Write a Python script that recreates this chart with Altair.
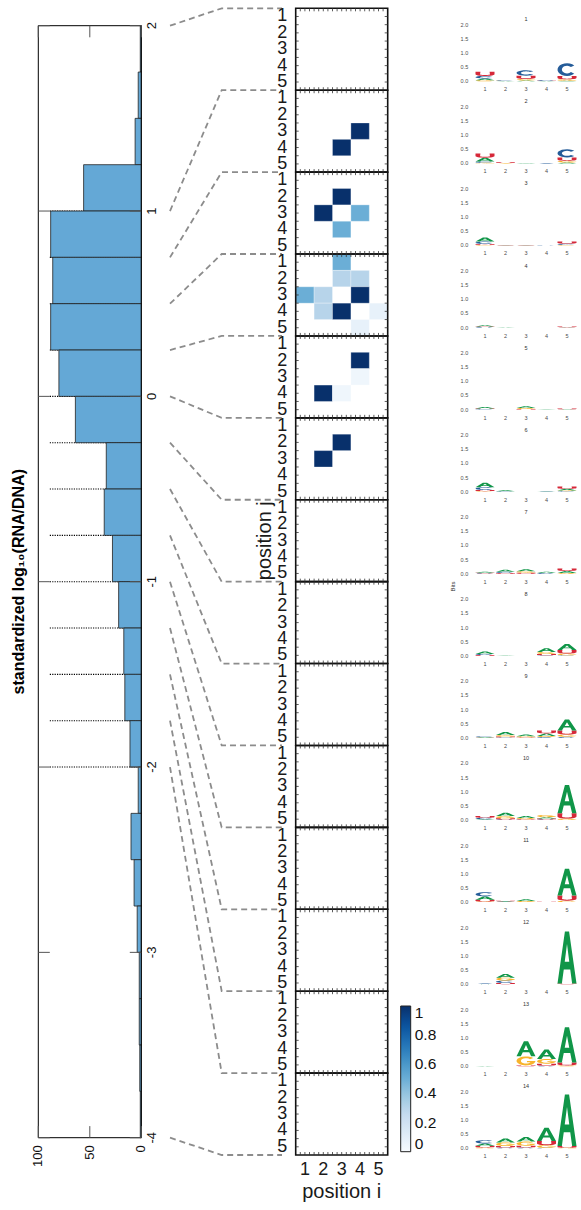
import math
import numpy as np
import pandas as pd
import altair as alt

# ---------------- values ----------------
# histogram (bins of width 0.25, listed from the top bin downwards)
BIN_TOP = [2.0, 1.75, 1.5, 1.25, 1.0, 0.75, 0.5, 0.25, 0.0, -0.25, -0.5, -0.75,
           -1.0, -1.25, -1.5, -1.75, -2.0, -2.25, -2.5, -2.75, -3.0, -3.25, -3.5, -3.75]
BIN_COUNT = [1, 3, 6, 56, 88, 86, 88, 80, 64, 34, 36, 28,
             22, 17, 16, 11, 3, 10, 7, 4, 2, 2, 1.5, 1]
BIN_WIDTH = 0.25
HIST_TICKS_Y = [2, 1, 0, -1, -2, -3, -4]
HIST_TICKS_X = [100, 50, 0]
# boundaries of the 14 groups (each maps to one heat map / logo panel)
PANEL_EDGES = [2.0, 1.0, 0.75, 0.5, 0.25, 0.0, -0.25, -0.5, -0.75, -1.0,
               -1.25, -1.5, -1.75, -2.0, -4.0]

# heat map cells (panel 1..14, position i, position j, value); other cells are 0
HEAT_PANEL = [2, 2, 3, 3, 3, 3, 4, 4, 4, 4, 4, 4, 4, 4, 4, 4, 5, 5, 5, 5, 6, 6]
HEAT_I = [4, 3, 3, 2, 4, 3, 3, 3, 4, 1, 2, 4, 2, 3, 5, 4, 4, 4, 2, 3, 3, 2]
HEAT_J = [3, 4, 2, 3, 3, 4, 1, 2, 2, 3, 3, 3, 4, 4, 4, 5, 2, 3, 4, 4, 2, 3]
HEAT_V = [1, 1, 1, 1, 0.5, 0.5, 0.5, 0.3, 0.3, 0.5, 0.3, 1, 0.3, 1, 0.08, 0.08,
          1, 0.04, 1, 0.04, 1, 1]
COLORBAR_TICKS = [0, 0.2, 0.4, 0.6, 0.8, 1]

# sequence logos: information (bits) of each letter, 14 logos x 5 positions
LOGO_A = [
    [0.06, 0.01, 0.03, 0.01, 0.02],
    [0.13, 0.00, 0.01, 0.00, 0.03],
    [0.14, 0.01, 0.01, 0.00, 0.00],
    [0.04, 0.01, 0.00, 0.00, 0.01],
    [0.05, 0.00, 0.06, 0.01, 0.01],
    [0.16, 0.03, 0.00, 0.01, 0.06],
    [0.03, 0.07, 0.07, 0.04, 0.07],
    [0.08, 0.01, 0.00, 0.13, 0.21],
    [0.02, 0.11, 0.06, 0.09, 0.39],
    [0.03, 0.12, 0.07, 0.05, 1.00],
    [0.12, 0.02, 0.06, 0.00, 0.95],
    [0.01, 0.13, 0.00, 0.00, 1.84],
    [0.01, 0.00, 0.53, 0.33, 1.25],
    [0.08, 0.14, 0.16, 0.47, 1.82],
]
LOGO_C = [
    [0.09, 0.02, 0.19, 0.03, 0.45],
    [0.05, 0.00, 0.00, 0.01, 0.29],
    [0.09, 0.00, 0.00, 0.01, 0.04],
    [0.02, 0.00, 0.00, 0.00, 0.00],
    [0.02, 0.00, 0.00, 0.00, 0.00],
    [0.10, 0.02, 0.00, 0.01, 0.02],
    [0.02, 0.04, 0.00, 0.03, 0.00],
    [0.04, 0.00, 0.00, 0.02, 0.02],
    [0.02, 0.02, 0.00, 0.03, 0.04],
    [0.05, 0.02, 0.01, 0.02, 0.00],
    [0.15, 0.01, 0.00, 0.00, 0.00],
    [0.01, 0.09, 0.00, 0.00, 0.00],
    [0.00, 0.00, 0.00, 0.02, 0.00],
    [0.12, 0.03, 0.03, 0.02, 0.00],
]
LOGO_G = [
    [0.04, 0.01, 0.05, 0.00, 0.05],
    [0.02, 0.01, 0.00, 0.00, 0.06],
    [0.02, 0.00, 0.00, 0.00, 0.02],
    [0.00, 0.00, 0.00, 0.00, 0.00],
    [0.00, 0.00, 0.04, 0.00, 0.00],
    [0.02, 0.00, 0.00, 0.00, 0.02],
    [0.00, 0.00, 0.05, 0.00, 0.03],
    [0.00, 0.00, 0.00, 0.07, 0.06],
    [0.00, 0.05, 0.04, 0.04, 0.08],
    [0.00, 0.08, 0.04, 0.08, 0.05],
    [0.02, 0.00, 0.04, 0.00, 0.05],
    [0.00, 0.10, 0.00, 0.00, 0.00],
    [0.00, 0.00, 0.32, 0.17, 0.03],
    [0.03, 0.13, 0.15, 0.09, 0.02],
]
LOGO_U = [
    [0.15, 0.00, 0.12, 0.01, 0.12],
    [0.15, 0.03, 0.00, 0.00, 0.12],
    [0.03, 0.01, 0.01, 0.00, 0.08],
    [0.02, 0.00, 0.00, 0.00, 0.03],
    [0.02, 0.00, 0.02, 0.00, 0.03],
    [0.04, 0.00, 0.00, 0.00, 0.08],
    [0.02, 0.03, 0.04, 0.00, 0.09],
    [0.03, 0.00, 0.00, 0.05, 0.13],
    [0.01, 0.03, 0.02, 0.10, 0.14],
    [0.06, 0.04, 0.02, 0.03, 0.19],
    [0.06, 0.02, 0.00, 0.01, 0.18],
    [0.00, 0.04, 0.00, 0.00, 0.02],
    [0.00, 0.00, 0.03, 0.07, 0.10],
    [0.06, 0.05, 0.06, 0.15, 0.06],
]
LOGO_TICKS = [0.0, 0.5, 1.0, 1.5, 2.0]
LETTERS = ["A", "C", "G", "U"]
LETTER_COLORS = ["#109648", "#255C99", "#F7B32B", "#D62839"]
BLUES = ["#f7fbff", "#deebf7", "#c6dbef", "#9ecae1", "#6baed6",
         "#4292c6", "#2171b5", "#08519c", "#08306b"]

# ---------------- layout (pixels on the 581 x 1210 canvas) ----------------
W, H = 581, 1210
FONT = "Liberation Sans"
HX_L, HX_R = 38.3, 141.3        # count 100 .. count 0
HY_T, HY_B = 25.7, 1137.7       # value 2 .. value -4
CN_X0, CN_XE, CN_X1 = 170.0, 221.7, 282.0
HM_X0, HM_X1 = 295.7, 387.7
HM_Y0, HM_Y1 = 8.3, 1155.0
LG_X0, LG_X1 = 474.75, 577.25
LG_Z0, LG_PERIOD, LG_BIT = 81.3, 82.08, 28.3

COUNT_PX = (HX_R - HX_L) / 100.0
VAL_PX = (HY_B - HY_T) / 6.0
ROW_PX = (HM_Y1 - HM_Y0) / 70.0
COL_PX = (HM_X1 - HM_X0) / 5.0
PB = LG_PERIOD / LG_BIT          # logo period expressed in bits
NP = len(PANEL_EDGES) - 1

HXS = alt.Scale(domain=[0, 100], range=[HX_R, HX_L], nice=False, zero=False)
HYS = alt.Scale(domain=[-4, 2], range=[HY_B, HY_T], nice=False, zero=False)
CXS = alt.Scale(domain=[0, 1], range=[CN_X0, CN_X1], nice=False, zero=False)
RYS = alt.Scale(domain=[0.5, 70.5], range=[HM_Y0, HM_Y1], nice=False, zero=False)
MXS = alt.Scale(domain=[0.5, 5.5], range=[HM_X0, HM_X1], nice=False, zero=False)
LXS = alt.Scale(domain=[0.5, 5.5], range=[LG_X0, LG_X1], nice=False, zero=False)
LYS = alt.Scale(domain=[-(NP - 1) * PB, 2.0],
                range=[LG_Z0 + (NP - 1) * LG_PERIOD, LG_Z0 - 2.0 * LG_BIT],
                nice=False, zero=False)


def X(f, s):
    return alt.X(f, type="quantitative", scale=s, axis=None)


def Y(f, s):
    return alt.Y(f, type="quantitative", scale=s, axis=None)


def text_layer(df, xs, ys, **kw):
    return alt.Chart(df).mark_text(font=FONT, **kw).encode(
        x=X("x", xs), y=Y("y", ys), text="t:N")


layers = []

# ---------------- histogram ----------------
dots = pd.DataFrame({"y": PANEL_EDGES[1:-1]})
dots["x0"] = 11.5 / COUNT_PX + 0.0
dots["x0"] = 100 - dots["x0"]
dots["x1"] = 0
layers.append(alt.Chart(dots).mark_rule(color="black", strokeWidth=1.1, strokeDash=[1.2, 1.2]).encode(
    x=X("x0", HXS), x2="x1", y=Y("y", HYS)))

bars = pd.DataFrame({"hi": BIN_TOP, "count": BIN_COUNT})
bars["lo"] = bars["hi"] - BIN_WIDTH
bars["zero"] = 0
layers.append(alt.Chart(bars).mark_rect(fill="#64a8d6", stroke="#222222", strokeWidth=0.8).encode(
    x=X("zero", HXS), x2="count", y=Y("lo", HYS), y2="hi"))

frame = pd.DataFrame({"x0": [0], "x1": [100], "y0": [HIST_TICKS_Y[-1]], "y1": [HIST_TICKS_Y[0]]})
layers.append(alt.Chart(frame).mark_rect(fillOpacity=0, stroke="black", strokeWidth=1).encode(
    x=X("x0", HXS), x2="x1", y=Y("y0", HYS), y2="y1"))

tlx = 11.5 / COUNT_PX
tly = 11.6 / VAL_PX
trows = []
for v in HIST_TICKS_Y:
    trows.append(dict(x0=100, x1=100 - tlx, y0=v, y1=v))
    trows.append(dict(x0=0, x1=tlx, y0=v, y1=v))
for c in HIST_TICKS_X:
    trows.append(dict(x0=c, x1=c, y0=2, y1=2 - tly))
    trows.append(dict(x0=c, x1=c, y0=-4, y1=-4 + tly))
layers.append(alt.Chart(pd.DataFrame(trows)).mark_rule(color="#555555", strokeWidth=1).encode(
    x=X("x0", HXS), x2="x1", y=Y("y0", HYS), y2="y1"))

ylab = pd.DataFrame({"x": 0, "y": HIST_TICKS_Y, "t": [str(v) for v in HIST_TICKS_Y]})
layers.append(text_layer(ylab, HXS, HYS, angle=270, align="center", baseline="middle",
                         dy=11, fontSize=13, color="#111111"))
xlab = pd.DataFrame({"x": HIST_TICKS_X, "y": -4, "t": [str(v) for v in HIST_TICKS_X]})
layers.append(text_layer(xlab, HXS, HYS, angle=270, align="right", baseline="middle",
                         dx=-7.5, fontSize=13, color="#111111"))
htitle = pd.DataFrame({"x": [100], "y": [-1], "t": ["standardized log\u2081\u2080(RNA/DNA)"]})
layers.append(text_layer(htitle, HXS, HYS, angle=270, align="center", baseline="middle",
                         dy=-19, fontSize=16, fontWeight="bold", color="black"))

# ---------------- connectors ----------------
elbow = (CN_XE - CN_X0) / (CN_X1 - CN_X0)
crow = []
for e, v in enumerate(PANEL_EDGES):
    ypx = HY_T + (2 - v) * VAL_PX
    r_left = 0.5 + (ypx - HM_Y0) / ROW_PX
    r_panel = 0.5 + 5 * e
    crow += [dict(e=e, k=0, cx=0.0, cy=r_left),
             dict(e=e, k=1, cx=elbow, cy=r_panel),
             dict(e=e, k=2, cx=1.0, cy=r_panel)]
layers.append(alt.Chart(pd.DataFrame(crow)).mark_line(
    color="#8c8c8c", strokeWidth=1.8, strokeDash=[6, 4]).encode(
    x=X("cx", CXS), y=Y("cy", RYS), detail="e:N", order=alt.Order("k:Q")))

# ---------------- heat maps ----------------
cells = pd.DataFrame({"p": HEAT_PANEL, "i": HEAT_I, "j": HEAT_J, "v": HEAT_V})
cells["r"] = (cells["p"] - 1) * 5 + cells["j"]
cells["x0"] = cells["i"] - 0.5
cells["x1"] = cells["i"] + 0.5
cells["y0"] = cells["r"] - 0.5
cells["y1"] = cells["r"] + 0.5
stops = [k / 8 for k in range(9)]
layers.append(alt.Chart(cells).mark_rect(stroke="white", strokeWidth=0.4, strokeOpacity=0.7).encode(
    x=X("x0", MXS), x2="x1", y=Y("y0", RYS), y2="y1",
    color=alt.Color("v:Q", scale=alt.Scale(domain=stops, range=BLUES),
                    legend=alt.Legend(orient="none", legendX=400.7, legendY=1006,
                                      direction="vertical", gradientLength=145.7,
                                      gradientThickness=10, values=COLORBAR_TICKS,
                                      format="~g", labelFontSize=15.5, labelFont=FONT,
                                      labelColor="#111111", labelOffset=4,
                                      labelOverlap=False, title=None, padding=0,
                                      gradientStrokeColor="#222222",
                                      gradientStrokeWidth=1))))

frames = pd.DataFrame({"p": list(range(1, NP + 1))})
frames["x0"] = 0.5
frames["x1"] = 5.5
frames["y0"] = (frames["p"] - 1) * 5 + 0.5
frames["y1"] = frames["p"] * 5 + 0.5
layers.append(alt.Chart(frames).mark_rect(fillOpacity=0, stroke="#111111", strokeWidth=1.6).encode(
    x=X("x0", MXS), x2="x1", y=Y("y0", RYS), y2="y1"))

tk = []
tl_r = 3.0 / ROW_PX
tl_c = 3.0 / COL_PX
for p in range(NP):
    top, bot = p * 5 + 0.5, p * 5 + 5.5
    for q in range(1, 20):
        xx = 0.5 + q * 0.25
        tk.append(dict(x0=xx, x1=xx, y0=top, y1=top + tl_r))
        tk.append(dict(x0=xx, x1=xx, y0=bot, y1=bot - tl_r))
    for q in range(1, 10):
        yy = top + q * 0.5
        tk.append(dict(x0=0.5, x1=0.5 + tl_c, y0=yy, y1=yy))
        tk.append(dict(x0=5.5, x1=5.5 - tl_c, y0=yy, y1=yy))
layers.append(alt.Chart(pd.DataFrame(tk)).mark_rule(color="#333333", strokeWidth=0.8).encode(
    x=X("x0", MXS), x2="x1", y=Y("y0", RYS), y2="y1"))

hyl = [dict(x=0.5, y=p * 5 + j, t=str(j)) for p in range(NP) for j in range(1, 6)]
layers.append(text_layer(pd.DataFrame(hyl), MXS, RYS, align="right", baseline="middle",
                         dx=-8.5, fontSize=18, color="#1a1a1a"))
hxl = [dict(x=i, y=70.5, t=str(i)) for i in range(1, 6)]
layers.append(text_layer(pd.DataFrame(hxl), MXS, RYS, align="center", baseline="middle",
                         dy=15, fontSize=18, color="#1a1a1a"))
layers.append(text_layer(pd.DataFrame([dict(x=3, y=70.5, t="position i")]), MXS, RYS,
                         align="center", baseline="middle", dy=36.5, fontSize=20, color="#1a1a1a"))
layers.append(text_layer(pd.DataFrame([dict(x=0.5, y=33, t="position j")]), MXS, RYS,
                         angle=270, align="center", baseline="middle", dy=-31, fontSize=20,
                         color="#1a1a1a"))

# ---------------- sequence logos ----------------
def _arc(cx, cy, rx, ry, a0, a1, n):
    return [(cx + rx * math.cos(math.radians(a)), cy + ry * math.sin(math.radians(a)))
            for a in np.linspace(a0, a1, n)]


def _area(pts):
    s = 0.0
    for (x1, y1), (x2, y2) in zip(pts, pts[1:] + pts[:1]):
        s += x1 * y2 - x2 * y1
    return s / 2


def _orient(pts, ccw):
    return pts if (_area(pts) > 0) == ccw else pts[::-1]


GLYPHS = {
    "A": [_orient([(0, 0), (0.39, 1), (0.61, 1), (1, 0), (0.77, 0), (0.67, 0.27),
                   (0.33, 0.27), (0.23, 0)], True),
          _orient([(0.38, 0.42), (0.62, 0.42), (0.5, 0.76)], False)],
    "C": [_arc(0.5, 0.5, 0.5, 0.5, 40, 320, 18) + _arc(0.5, 0.5, 0.27, 0.3, 320, 40, 18)],
    "G": [_arc(0.5, 0.5, 0.5, 0.5, 40, 360, 18) + [(0.55, 0.5), (0.55, 0.36)]
          + _arc(0.5, 0.5, 0.27, 0.3, 330, 40, 16)],
    "U": [[(0, 1)] + _arc(0.5, 0.38, 0.5, 0.38, 180, 360, 14) + [(1, 1), (0.74, 1)]
          + _arc(0.5, 0.38, 0.26, 0.18, 360, 180, 14) + [(0.26, 1)]],
}
UNIT_PX = 10.0                  # one path unit of a symbol with size 400
LETTER_W = 19.0 / UNIT_PX


def glyph_path(letter, h):
    out = []
    for contour in GLYPHS[letter]:
        pts = ["%.3f,%.3f" % ((x - 0.5) * LETTER_W, (0.5 - y) * h) for x, y in contour]
        out.append("M" + "L".join(pts) + "Z")
    return "".join(out)


LOGO = {"A": LOGO_A, "C": LOGO_C, "G": LOGO_G, "U": LOGO_U}
lrows = []
for k in range(NP):
    for p in range(5):
        hs = sorted([(LOGO[L][k][p], L) for L in LETTERS if LOGO[L][k][p] > 0])
        cum = 0.0
        for hbits, L in hs:
            lrows.append(dict(k=k, pos=p + 1, letter=L, bits=hbits,
                              v=cum + hbits / 2 - k * PB,
                              path=glyph_path(L, hbits * LG_BIT / UNIT_PX)))
            cum += hbits
layers.append(alt.Chart(pd.DataFrame(lrows)).mark_point(
    filled=True, opacity=1, size=(2 * UNIT_PX) ** 2, strokeWidth=0).encode(
    x=X("pos", LXS), y=Y("v", LYS),
    shape=alt.Shape("path:N", scale=None, legend=None),
    color=alt.Color("letter:N", scale=alt.Scale(domain=LETTERS, range=LETTER_COLORS),
                    legend=None)))

lyl = [dict(x=0.5, y=b - k * PB, t="%.1f" % b) for k in range(NP) for b in LOGO_TICKS]
layers.append(text_layer(pd.DataFrame(lyl), LXS, LYS, align="right", baseline="middle",
                         dx=-6.5, fontSize=5.5, color="#4d4d4d"))
lxl = [dict(x=p, y=-k * PB, t=str(p)) for k in range(NP) for p in range(1, 6)]
layers.append(text_layer(pd.DataFrame(lxl), LXS, LYS, align="center", baseline="middle",
                         dy=8, fontSize=5.5, color="#4d4d4d"))
TITLE_BITS = 62.0 / LG_BIT
ltl = [dict(x=3, y=TITLE_BITS - k * PB, t=str(k + 1)) for k in range(NP)]
layers.append(text_layer(pd.DataFrame(ltl), LXS, LYS, align="center", baseline="middle",
                         fontSize=5.5, color="#333333"))
layers.append(text_layer(pd.DataFrame([dict(x=0.5, y=(2.0 - (NP - 1) * PB) / 2, t="Bits")]),
                         LXS, LYS, angle=270, align="center", baseline="middle",
                         dy=-21.5, fontSize=6, color="#333333"))

chart = alt.layer(*layers).resolve_scale(
    x="independent", y="independent", color="independent", shape="independent"
).properties(
    width=W, height=H, padding=0, autosize=alt.AutoSizeParams(type="none")
).configure_view(stroke=None)

chart.save("out.html", embed_options={"renderer": "svg", "actions": False})
